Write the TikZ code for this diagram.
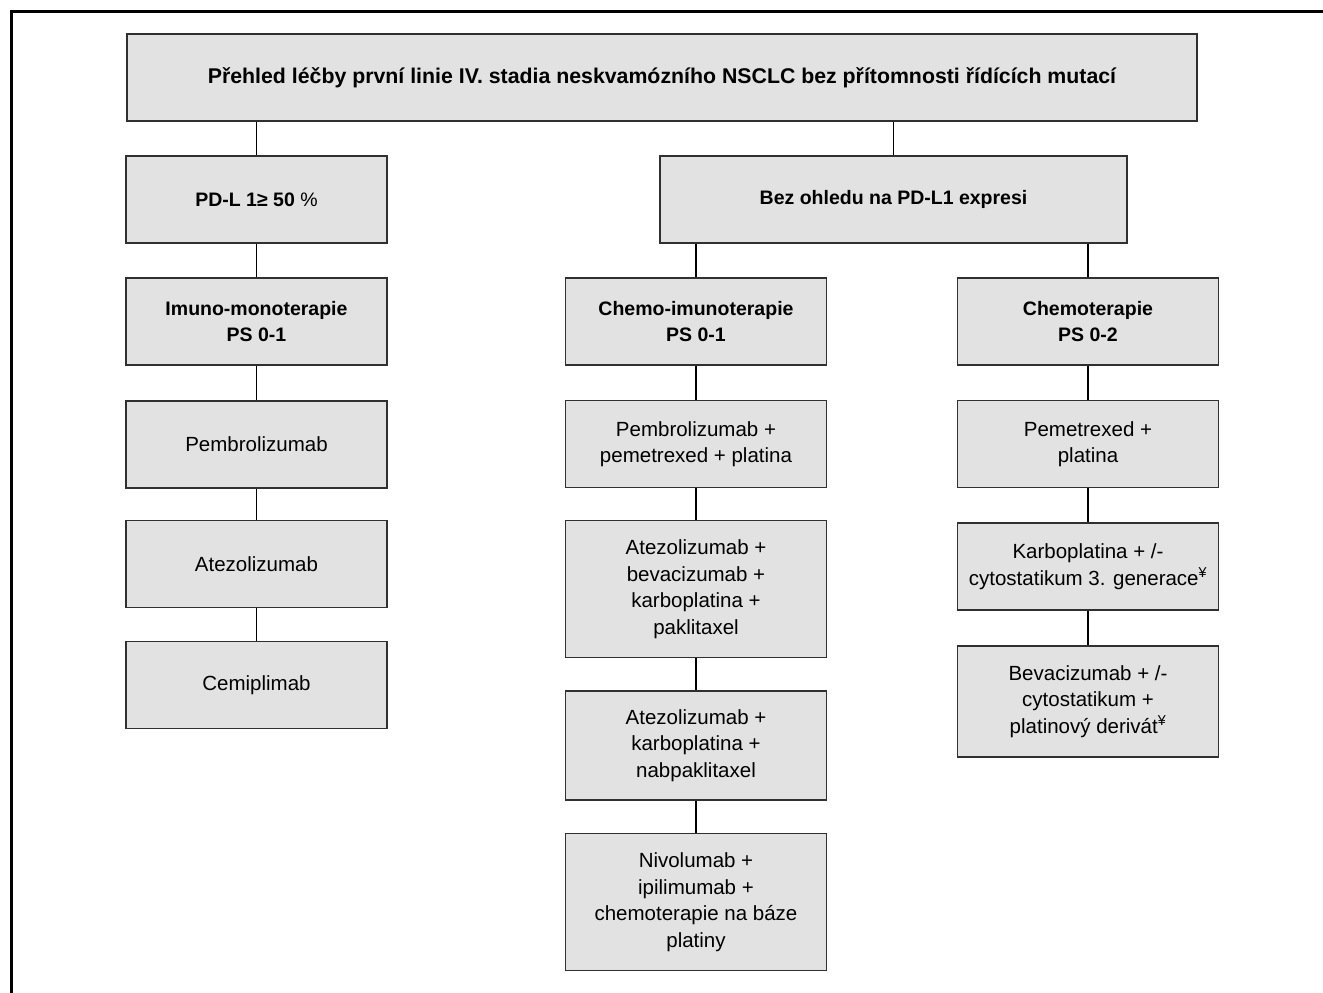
\documentclass[tikz,border=0pt]{standalone}
\usepackage{fontspec}
\setmainfont{Liberation Sans}
\definecolor{boxfill}{HTML}{E2E2E2}
\definecolor{boxline}{HTML}{303030}
\tikzset{
  stdbox/.style={draw=boxline, line width=1.3pt, fill=boxfill, minimum width=261pt,
    minimum height=87pt, align=center, inner sep=2pt,
    font=\fontsize{20.5}{26.5}\selectfont},
  headbox/.style={stdbox, font=\bfseries\fontsize{19.5}{26.5}\selectfont},
  titlebox/.style={stdbox, font=\bfseries\fontsize{21.3}{26.5}\selectfont},
  link/.style={draw=black, line width=1.2pt}
}
\begin{document}
\begin{tikzpicture}[x=1pt,y=-1pt]
\useasboundingbox (0,0) rectangle (1323,993);
\fill[white] (0,0) rectangle (1323,993);
\draw[line width=3pt] (11,1000) -- (11,11) -- (1330,11);

\node[titlebox, minimum width=1070pt] (top) at (662,77.5) {Přehled léčby první linie IV. stadia neskvamózního NSCLC bez přítomnosti řídících mutací};

\node[headbox] (pdl) at (256.5,199.5) {PD-L 1≥ 50 {\mdseries\%}};
\node[headbox, minimum width=467pt] (bez) at (893.5,199.5) {Bez ohledu na PD-L1 expresi};

\node[headbox] (imuno) at (256.5,321.5) {Imuno-monoterapie\\PS 0-1};
\node[headbox] (chimu) at (696,321.5) {Chemo-imunoterapie\\PS 0-1};
\node[headbox] (chemo) at (1088,321.5) {Chemoterapie\\PS 0-2};

\node[stdbox] (pembro) at (256.5,444.5) {Pembrolizumab};
\node[stdbox] (atezo) at (256.5,564) {Atezolizumab};
\node[stdbox] (cemi) at (256.5,685) {Cemiplimab};

\node[stdbox] (pp) at (696,444) {Pembrolizumab +\\pemetrexed + platina};
\node[stdbox, minimum height=137pt] (ab) at (696,589) {Atezolizumab +\\bevacizumab +\\karboplatina +\\paklitaxel};
\node[stdbox, minimum height=109pt] (ak) at (696,745.5) {Atezolizumab +\\karboplatina +\\nabpaklitaxel};
\node[stdbox, minimum height=137pt] (niv) at (696,902) {Nivolumab +\\ipilimumab +\\chemoterapie na báze\\platiny};

\node[stdbox] (pem) at (1088,444) {Pemetrexed +\\platina};
\node[stdbox] (karbo) at (1088,566.5) {Karboplatina + /-\\cytostatikum 3. generace\textsuperscript{¥}};
\node[stdbox, minimum height=111pt] (beva) at (1088,701.5) {Bevacizumab + /-\\cytostatikum +\\platinový derivát\textsuperscript{¥}};

\draw[link] (top.south -| pdl.north) -- (pdl.north);
\draw[link] (top.south -| bez.north) -- (bez.north);
\draw[link] (pdl.south) -- (imuno.north);
\draw[link] (bez.south -| chimu.north) -- (chimu.north);
\draw[link] (bez.south -| chemo.north) -- (chemo.north);
\draw[link] (imuno.south) -- (pembro.north);
\draw[link] (pembro.south) -- (atezo.north);
\draw[link] (atezo.south) -- (cemi.north);
\draw[link] (chimu.south) -- (pp.north);
\draw[link] (pp.south) -- (ab.north);
\draw[link] (ab.south) -- (ak.north);
\draw[link] (ak.south) -- (niv.north);
\draw[link] (chemo.south) -- (pem.north);
\draw[link] (pem.south) -- (karbo.north);
\draw[link] (karbo.south) -- (beva.north);
\end{tikzpicture}
\end{document}
